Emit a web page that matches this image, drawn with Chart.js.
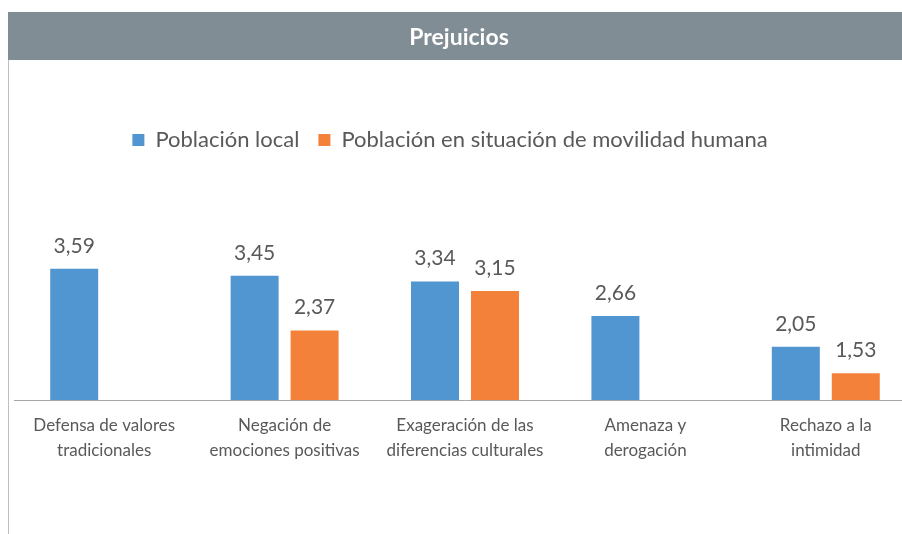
<!DOCTYPE html>
<html><head><meta charset="utf-8">
<script src="https://cdn.jsdelivr.net/npm/chart.js@4"></script>
<style>html,body{margin:0;padding:0;overflow:hidden;background:#fff;width:902px;height:534px}
#wrap{position:absolute;left:0;top:0;width:916px;height:534px}</style></head>
<body><div id="wrap"><canvas id="c"></canvas></div>
<script>
const chartTitle = 'Prejuicios';
const categories = [['Defensa de valores','tradicionales'],['Negación de','emociones positivas'],['Exageración de las','diferencias culturales'],['Amenaza y','derogación'],['Rechazo a la','intimidad']];
const seriesNames = ['Población local','Población en situación de movilidad humana'];
const localValues = [3.59,3.45,3.34,2.66,2.05];
const movilidadValues = [null,2.37,3.15,null,1.53];
const axisMin = 1, axisMax = 4;

const FONT = 'Lato, "Open Sans", sans-serif';
const TXT = '#595959';

const framePlugin = {
  id:'frame',
  beforeDraw(chart){
    const c = chart.ctx;
    c.save();
    c.fillStyle = '#fff'; c.fillRect(0,0,chart.width,chart.height);
    c.fillStyle = '#818D94'; c.fillRect(8,12,chart.width-8,48);
    c.strokeStyle = '#BFBFBF'; c.lineWidth = 1;
    c.beginPath(); c.moveTo(8.5,60); c.lineTo(8.5,chart.height); c.stroke();
    c.fillStyle = '#fff'; c.font = 'bold 23px ' + FONT; c.textAlign='center'; c.textBaseline='middle';
    c.fillText(chartTitle, 459, 38);
    c.restore();
  }
};
const valuePlugin = {
  id:'values',
  afterDatasetsDraw(chart){
    const c = chart.ctx;
    c.save();
    c.font = '21px ' + FONT; c.fillStyle = TXT; c.textAlign='center'; c.textBaseline='middle';
    chart.data.datasets.forEach((ds,i)=>{
      const meta = chart.getDatasetMeta(i);
      meta.data.forEach((bar,j)=>{
        const v = ds.data[j];
        if (v==null) return;
        c.fillText(v.toFixed(2).replace('.',','), bar.x, bar.y-23);
      });
    });
    c.restore();
  }
};
const legendSpace = {
  id:'legendSpace',
  afterInit(chart){
    const lg = chart.legend; const orig = lg.fit;
    lg.fit = function(){ orig.bind(lg)(); this.height += 87; };
  },
  afterLayout(chart){
    const lg = chart.legend;
    lg.left -= 15; lg.right -= 15;
  }
};

new Chart(document.getElementById('c'), {
  type:'bar',
  data:{
    labels: categories,
    datasets:[
      {label: seriesNames[0], data: localValues, backgroundColor:'#5195D1'},
      {label: seriesNames[1], data: movilidadValues, backgroundColor:'#F4813A'}
    ]
  },
  options:{
    responsive:true, maintainAspectRatio:false, animation:false,
    layout:{padding:{left:14,right:0,top:110,bottom:58}},
    categoryPercentage:0.665, barPercentage:0.8,
    plugins:{
      title:{display:false},
      legend:{position:'top',labels:{boxWidth:12,boxHeight:12,padding:19,color:TXT,font:{family:FONT,size:22}}},
      tooltip:{enabled:false}
    },
    scales:{
      x:{grid:{display:false,drawTicks:false},border:{display:true,color:'#A6A6A6',width:1},
         ticks:{color:TXT,font:{family:FONT,size:17,lineHeight:1.47},padding:13,maxRotation:0,autoSkip:false}},
      y:{display:false,min:axisMin,max:axisMax}
    }
  },
  plugins:[framePlugin,valuePlugin,legendSpace]
});
</script></body></html>
